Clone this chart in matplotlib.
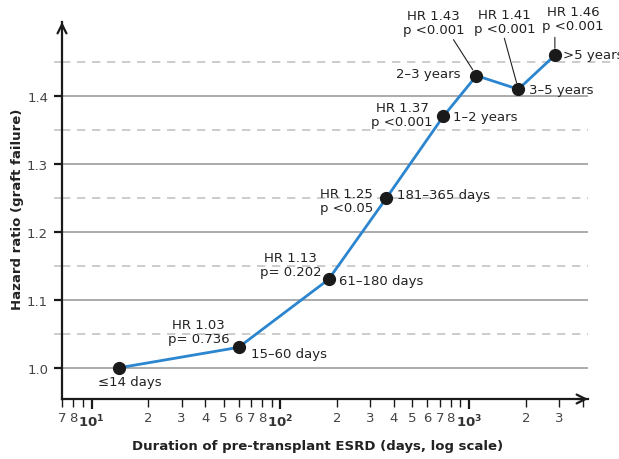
import matplotlib
matplotlib.use("Agg")
import matplotlib.pyplot as plt
from matplotlib.ticker import FixedLocator, FixedFormatter, NullFormatter

plt.rcParams['font.family'] = ['DejaVu Sans']

# data
days = [14, 60, 180, 365, 730, 1095, 1825, 2850]
hr = [1.00, 1.03, 1.13, 1.25, 1.37, 1.43, 1.41, 1.46]
groups = ['≤14 days', '15–60 days', '61–180 days', '181–365 days',
          '1–2 years', '2–3 years', '3–5 years', '>5 years']
hr_text = [None, 'HR 1.03\np= 0.736', 'HR 1.13\np= 0.202', 'HR 1.25\np <0.05',
           'HR 1.37\np <0.001', 'HR 1.43\np <0.001', 'HR 1.41\np <0.001',
           'HR 1.46\np <0.001']

major_x = [10, 100, 1000]
major_x_labels = [r'$\mathbf{10^{1}}$', r'$\mathbf{10^{2}}$', r'$\mathbf{10^{3}}$']
minor_x = [7, 8, 9, 20, 30, 40, 50, 60, 70, 80, 90,
           200, 300, 400, 500, 600, 700, 800, 900, 2000, 3000, 4000]
minor_x_labels = ['7', '8', '', '2', '3', '4', '5', '6', '7', '8', '',
                  '2', '3', '4', '5', '6', '7', '8', '', '2', '3', '']
y_major = [1.0, 1.1, 1.2, 1.3, 1.4]
y_minor = [1.05, 1.15, 1.25, 1.35, 1.45]

txt = '#222222'
fig = plt.figure(figsize=(6.19, 4.6), dpi=100)
ax = fig.add_axes([62 / 619, 1 - 400 / 460, (588 - 62) / 619, (400 - 23) / 460])
ax.set_xscale('log')
ax.set_xlim(6.96, 4270)
ax.set_ylim(0.954, 1.509)

for y in y_major:
    ax.axhline(y, color='#ababab', lw=1.4, zorder=1)
for y in y_minor:
    ax.axhline(y, color='#c4c4c4', lw=1.2, ls=(0, (5, 4)), zorder=1,
               xmax=1.05 if y == y_minor[-1] else 1, clip_on=False)

ax.plot(days, hr, color='#2b85cf', lw=2, zorder=3)
ax.plot(days, hr, 'o', color='#1a1a1a', ms=8.5, zorder=4)

# group labels (offsets in pixels)
g_off = [(11, -14, 'center'), (12, -6, 'left'), (10, -1, 'left'), (11, 3, 'left'),
         (10, 0, 'left'), (-16, 2, 'right'), (11, 0, 'left'), (8, 1, 'left')]
for d, h, g, (dx, dy, ha) in zip(days, hr, groups, g_off):
    ax.annotate(g, (d, h), xytext=(dx, dy), textcoords='offset pixels',
                ha=ha, va='center', fontsize=9.5, color=txt, zorder=5)

h_off = [None, (-40, 16), (-38, 15), (-40, -3), (-41, 2), (-43, 53), (-14, 68), (18, 37)]
for d, h, t, o in zip(days, hr, hr_text, h_off):
    if t is None:
        continue
    ax.annotate(t, (d, h), xytext=o, textcoords='offset pixels',
                ha='center', va='center', fontsize=9.5, color=txt,
                linespacing=1.1, zorder=5)

# leader lines for the top three
leads = [(5, (-23, 36)), (6, (-14, 51)), (7, (0, 18))]
for i, o in leads:
    ax.annotate('', (days[i], hr[i]), xytext=o, textcoords='offset pixels',
                arrowprops=dict(arrowstyle='-', color='#222222', lw=0.8,
                                shrinkA=0, shrinkB=5))

for s in ['top', 'right']:
    ax.spines[s].set_visible(False)
for s in ['left', 'bottom']:
    ax.spines[s].set_linewidth(1.6)
    ax.spines[s].set_color('#1a1a1a')
ax.annotate('', xy=(1.0, 0), xytext=(0.98, 0), xycoords='axes fraction',
            arrowprops=dict(arrowstyle='->', lw=1.6, color='#1a1a1a',
                            mutation_scale=16, shrinkA=0, shrinkB=0))
ax.annotate('', xy=(0, 1.0), xytext=(0, 0.98), xycoords='axes fraction',
            arrowprops=dict(arrowstyle='->', lw=1.6, color='#1a1a1a',
                            mutation_scale=16, shrinkA=0, shrinkB=0))

ax.xaxis.set_major_locator(FixedLocator(major_x))
ax.xaxis.set_major_formatter(FixedFormatter(major_x_labels))
ax.xaxis.set_minor_locator(FixedLocator(minor_x))
ax.xaxis.set_minor_formatter(FixedFormatter(minor_x_labels))
ax.tick_params(axis='x', which='major', length=7, width=1.6, color='#1a1a1a',
               labelsize=9.5, labelcolor='#333333', pad=3)
ax.tick_params(axis='x', which='minor', length=6, width=1.0, color='#1a1a1a',
               labelsize=9.5, labelcolor='#444444', pad=3)

ax.set_yticks(y_major)
ax.set_yticklabels(['1.0', '1.1', '1.2', '1.3', '1.4'])
ax.set_yticks(y_minor, minor=True)
ax.yaxis.set_minor_formatter(NullFormatter())
ax.tick_params(axis='y', which='major', length=6, width=1.6, color='#1a1a1a',
               labelsize=9.5, labelcolor='#444444', pad=4)
ax.tick_params(axis='y', which='minor', length=6, width=1.2, color='#c4c4c4')

fig.text(318 / 619, 1 - 447 / 460, 'Duration of pre-transplant ESRD (days, log scale)',
         ha='center', va='center', fontsize=9.5, fontweight='bold', color=txt)
fig.text(18 / 619, 1 - 209 / 460, 'Hazard ratio (graft failure)', rotation=90,
         ha='center', va='center', fontsize=9.5, fontweight='bold', color=txt)

fig.savefig('out.png', dpi=100)
